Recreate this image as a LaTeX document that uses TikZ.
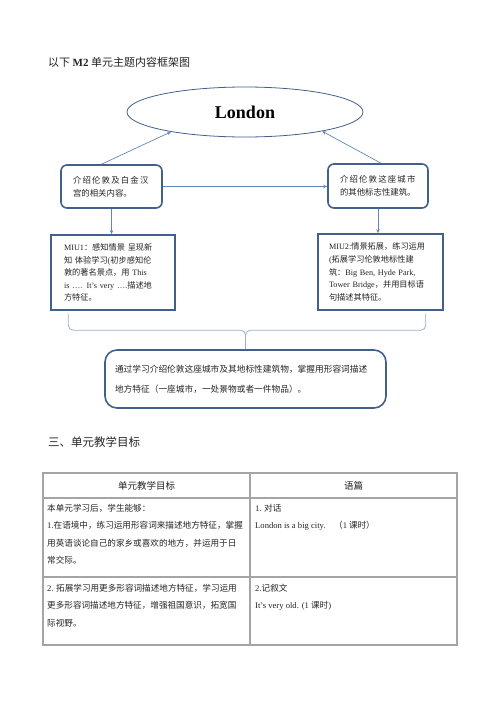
\documentclass[tikz,border=0pt]{standalone}
\usepackage{fontspec}
\setmainfont{Liberation Serif}
\newfontfamily\cjk{Noto Sans CJK SC}
\newfontfamily\cjkwide[LetterSpace=14]{Noto Sans CJK SC}
\newfontfamily\lat{Liberation Serif}
\usepackage{tikz}
\usetikzlibrary{shapes.geometric, arrows.meta}
\usepackage{xcolor}
\definecolor{boxblue}{RGB}{66,96,138}
\definecolor{arrblue}{RGB}{95,135,190}
\definecolor{braceblue}{RGB}{150,175,210}
\definecolor{tblgray}{RGB}{165,165,165}
\definecolor{txtgray}{RGB}{35,35,35}

\begin{document}
\begin{tikzpicture}[x=1pt, y=-1pt, >={Stealth[length=4pt,width=3.5pt]},
    every node/.style={font=\cjk, text=txtgray, inner sep=0pt},
    rbox/.style={draw=boxblue, line width=1.6pt, rounded corners=6pt, align=left},
    sbox/.style={draw=boxblue, line width=1.6pt, align=left},
    arr/.style={arrblue, line width=0.7pt},
    tline/.style={anchor=base west, font=\cjk\fontsize{8.6}{10}\selectfont}]
    \useasboundingbox (0,0) rectangle (500,707);
    \node[anchor=base west, font=\cjk\fontsize{11}{13}\selectfont] (title) at (48,66) {以下 {\lat\bfseries M2} 单元主题内容框架图};
    \node[ellipse, draw=boxblue, line width=0.8pt, minimum width=236pt, minimum height=50pt, font=\lat\bfseries\fontsize{18}{20}\selectfont, text=black] (london) at (245,112) {London};
    \node[rbox, minimum width=101pt, minimum height=43pt, text width=77pt, font=\cjk\fontsize{8.4}{13}\selectfont] (intro) at (111.5,186.5) {{\cjkwide 介绍伦敦及白金汉}\\宫的相关内容。};
    \node[rbox, minimum width=100pt, minimum height=44pt, text width=76pt, font=\cjk\fontsize{8.4}{13}\selectfont] (sights) at (378,186) {{\cjkwide 介绍伦敦这座城市}\\的其他标志性建筑。};
    \node[sbox, minimum width=124pt, minimum height=75pt, text width=98pt, font=\cjk\fontsize{8.2}{12.6}\selectfont] (miu1) at (113,272.5) {{\lat MIU1}：感知情景 呈现新\\知 体验学习{\lat (}初步感知伦\\敦的著名景点，用 {\lat This}\\{\lat is …. It’s very ….}描述地\\方特征。};
    \node[sbox, minimum width=125pt, minimum height=76pt, text width=103pt, font=\cjk\fontsize{8.2}{12.6}\selectfont] (miu2) at (380.5,272) {{\lat MIU2:}情景拓展，练习运用\\{\lat (}拓展学习伦敦地标性建\\筑：{\lat Big Ben, Hyde Park,}\\{\lat Tower Bridge}，并用目标语\\句描述其特征。};
    \node[rbox, rounded corners=12pt, minimum width=281pt, minimum height=58pt, text width=261pt, font=\cjk\fontsize{8.7}{20}\selectfont] (goal) at (245.5,379) {通过学习介绍伦敦这座城市及其地标性建筑物，掌握用形容词描述\\地方特征（一座城市，一处景物或者一件物品）。};
    \draw[arr,->] (intro.east) -- (intro.east -| sights.west);
    \draw[arr,->] ([xshift=-10pt]intro.north) -- (london.195);
    \draw[arr,->] ([xshift=3pt]sights.north) -- (london.-14);
    \draw[arr,->] (intro.south) -- (intro.south |- miu1.north);
    \draw[arr,->] (sights.south) -- (sights.south |- miu2.north);
    \draw[braceblue, line width=0.8pt, rounded corners=5pt] ([xshift=18pt,yshift=-3pt]miu1.south west) |- ([yshift=19pt]goal.north) -- (goal.north);
    \draw[braceblue, line width=0.8pt, rounded corners=5pt] ([xshift=-18pt,yshift=-3pt]miu2.south east) |- ([yshift=19pt]goal.north) -- (goal.north);
    \node[anchor=base west, font=\cjk\fontsize{11.5}{13}\selectfont] (sec) at (48,446.5) {三、单元教学目标};
    \draw[tblgray, line width=1.2pt] (43,473) rectangle (457,645);
    \draw[tblgray, line width=1.2pt] (43,498) -- (457,498);
    \draw[tblgray, line width=1.2pt] (43,577) -- (457,577);
    \draw[tblgray, line width=1.2pt] (250,473) -- (250,645);
    \node[font=\cjk\fontsize{9.5}{11}\selectfont] (head1) at (146.5,485.5) {单元教学目标};
    \node[font=\cjk\fontsize{9.5}{11}\selectfont] (head2) at (353.5,485.5) {语篇};
    \node[tline] (l1) at (47,511) {本单元学习后，学生能够：};
    \node[tline] (l2) at (47,528.5) {{\lat 1.}在语境中，练习运用形容词来描述地方特征，掌握};
    \node[tline] (l3) at (47,546) {用英语谈论自己的家乡或喜欢的地方，并运用于日};
    \node[tline] (l4) at (47,563.5) {常交际。};
    \node[tline] (r1) at (255,511) {{\lat 1.} 对话};
    \node[tline] (r2) at (255,528.5) {{\lat London is a big city.}\quad（{\lat 1} 课时）};
    \node[tline] (l5) at (47,591) {{\lat 2.} 拓展学习用更多形容词描述地方特征，学习运用};
    \node[tline] (l6) at (47,608.5) {更多形容词描述地方特征，增强祖国意识，拓宽国};
    \node[tline] (l7) at (47,626) {际视野。};
    \node[tline] (r3) at (255,591) {{\lat 2.}记叙文};
    \node[tline] (r4) at (255,608.5) {{\lat It’s very old. (1 }课时{\lat )}};
\end{tikzpicture}
\end{document}
